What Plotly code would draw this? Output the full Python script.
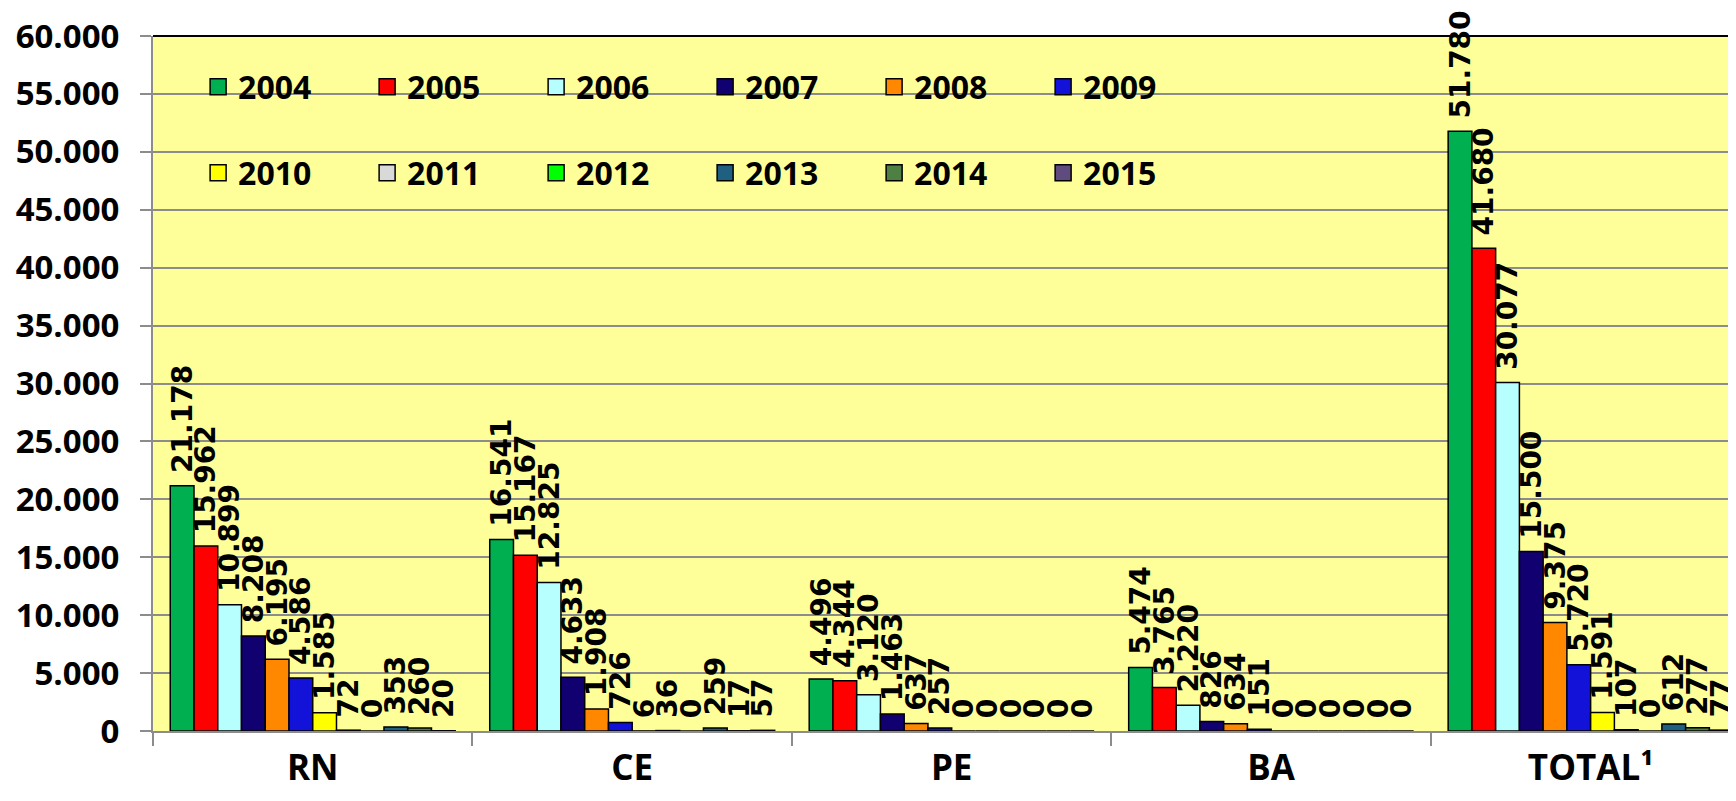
import plotly.graph_objects as go

categories = ["RN", "CE", "PE", "BA", "TOTAL¹"]
years = ["2004", "2005", "2006", "2007", "2008", "2009",
         "2010", "2011", "2012", "2013", "2014", "2015"]

# values per year, in category order RN, CE, PE, BA, TOTAL
v2004 = [21178, 16541, 4496, 5474, 51780]
v2005 = [15962, 15167, 4344, 3765, 41680]
v2006 = [10899, 12825, 3120, 2220, 30077]
v2007 = [8208, 4633, 1463, 826, 15500]
v2008 = [6195, 1908, 637, 634, 9375]
v2009 = [4586, 726, 257, 151, 5720]
v2010 = [1585, 6, 0, 0, 1591]
v2011 = [72, 36, 0, 0, 107]
v2012 = [0, 0, 0, 0, 0]
v2013 = [353, 259, 0, 0, 612]
v2014 = [260, 17, 0, 0, 277]
v2015 = [20, 57, 0, 0, 77]

series = [v2004, v2005, v2006, v2007, v2008, v2009,
          v2010, v2011, v2012, v2013, v2014, v2015]

colors = ["#00B050", "#FF0000", "#B7FFFF", "#100070", "#FF8800", "#1212D8",
          "#FFFF00", "#D9D9D9", "#00FF00", "#1F5F80", "#4F8043", "#5F4B7E"]

fig = go.Figure()
for yr, vals, col in zip(years, series, colors):
    fig.add_trace(go.Bar(
        x=categories, y=vals, name=yr, showlegend=False,
        marker=dict(color=col, line=dict(color="black", width=1.5)),
        texttemplate="\u00a0%{y:,}", textposition="outside", textangle=-90,
        textfont=dict(family="DejaVu Sans", size=28, color="black", weight="bold"),
        constraintext="none", cliponaxis=False,
    ))

for i, (yr, col) in enumerate(zip(years, colors)):
    fig.add_trace(go.Scatter(
        x=[categories[0]], y=[None], mode="markers", name=yr,
        marker=dict(symbol="square", size=16, color=col, line=dict(color="black", width=1.5)),
        legend="legend" if i < 6 else "legend2", hoverinfo="skip",
    ))

legend_common = dict(
    orientation="h", xanchor="left", yanchor="middle", x=0.0285,
    bgcolor="rgba(0,0,0,0)", entrywidth=124, entrywidthmode="pixels",
    font=dict(family="Open Sans", size=32, color="black", weight="bold"),
    traceorder="normal",
)

fig.update_layout(
    width=1728, height=793,
    margin=dict(l=145, r=0, t=28, b=70),
    paper_bgcolor="white", plot_bgcolor="#FFFF99",
    barmode="group", bargap=0.108, bargroupgap=0,
    separators=",.",
    legend=dict(y=0.9266, **legend_common),
    legend2=dict(y=0.803, **legend_common),
    xaxis=dict(
        type="category", range=[-0.5, 4.455], tickson="boundaries",
        ticks="outside", ticklen=13, tickwidth=2, tickcolor="#8C8C8C",
        showline=True, linecolor="#8C8C8C", linewidth=2, showgrid=False,
        automargin=False, ticklabelstandoff=5,
        tickfont=dict(family="Open Sans", size=35, color="black", weight="bold"),
    ),
    yaxis=dict(
        range=[0, 60000], dtick=5000, tickformat=",d",
        ticks="outside", ticklen=11, tickwidth=2, tickcolor="#8C8C8C",
        showline=True, linecolor="#8C8C8C", linewidth=2,
        showgrid=True, gridcolor="#8C8C8C", gridwidth=2, zeroline=False,
        automargin=False, ticklabelstandoff=14,
        tickfont=dict(family="Open Sans", size=33, color="black", weight="bold"),
    ),
    shapes=[dict(type="line", xref="paper", yref="paper", x0=0, x1=1, y0=1, y1=1,
                 line=dict(color="black", width=2))],
)

fig.write_html("out.html")
